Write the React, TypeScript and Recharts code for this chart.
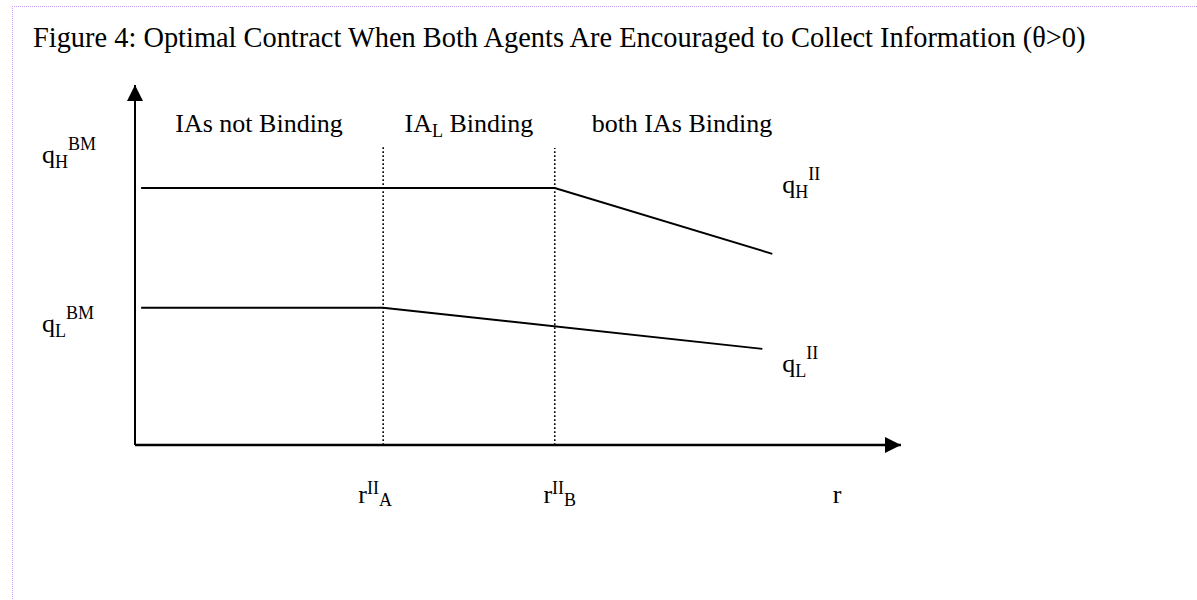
import React from 'react';
import { LineChart, Line, XAxis, YAxis, ReferenceLine, ReferenceDot } from 'recharts';

const FONT = '"Liberation Serif", "Times New Roman", Times, serif';
const TITLE = 'Figure 4: Optimal Contract When Both Agents Are Encouraged to Collect Information (\u03b8>0)';

// ---- data (r on x, quantity q on y) ----
const R_DOMAIN = [0, 100];
const Q_DOMAIN = [0, 100];
const R_START = 0.8;
const R_A = 32.4;
const R_B = 54.8;
const R_END_H = 83.2;
const R_END_L = 81.9;
const R_LABEL = 91;

const Q_H_BM = 71.4;
const Q_L_BM = 38.1;
const Q_H_END = 53.1;
const Q_L_END = 26.7;

const DIVIDER_TOPS = [83.3, 82.5];
const DIVIDERS = [R_A, R_B];

const qHData = [
  { r: R_START, q: Q_H_BM },
  { r: R_A, q: Q_H_BM },
  { r: R_B, q: Q_H_BM },
  { r: R_END_H, q: Q_H_END },
];
const qLData = [
  { r: R_START, q: Q_L_BM },
  { r: R_A, q: Q_L_BM },
  { r: R_END_L, q: Q_L_END },
];

const REGION_MIDS = [16.2, 43.6, 71.4];
const REGION_LABELS = [
  [{ t: 'IAs not Binding' }],
  [{ t: 'IA' }, { t: 'L', s: 'sub' }, { t: ' Binding', s: 'back' }],
  [{ t: 'both IAs Binding' }],
];

const X_TICKS = [R_A, R_B, R_LABEL];
const X_TICK_LABELS = [
  [{ t: 'r' }, { t: 'II', s: 'supR' }, { t: 'A', s: 'subR' }],
  [{ t: 'r' }, { t: 'II', s: 'supR' }, { t: 'B', s: 'subR' }],
  [{ t: 'r' }],
];
const X_TICK_DX = [-8, 5, 5];

const Y_TICKS = [Q_H_BM, Q_L_BM];
const Y_TICK_LABELS = [
  [{ t: 'q' }, { t: 'H', s: 'sub' }, { t: 'BM', s: 'supAfterSub' }],
  [{ t: 'q' }, { t: 'L', s: 'sub' }, { t: 'BM', s: 'supAfterSub' }],
];
const Y_TICK_DY = [-25, 24];

const END_LABELS = [
  [{ t: 'q' }, { t: 'H', s: 'sub' }, { t: 'II', s: 'supAfterSub' }],
  [{ t: 'q' }, { t: 'L', s: 'sub' }, { t: 'II', s: 'supAfterSub' }],
];

// ---- styling ----
const MAIN_SIZE = 26;
const SMALL_SIZE = 18;
const SHIFT: Record<string, number> = {
  sub: 5,
  back: -5,
  supAfterSub: -18,
  supR: -9,
  subR: 12,
};

type Part = { t: string; s?: string };

function Rich({ x, y, parts, anchor = 'start' }: { x: number; y: number; parts: Part[]; anchor?: string }) {
  return (
    <text x={x} y={y} fontFamily={FONT} fontSize={MAIN_SIZE} fill="#000" textAnchor={anchor as any} style={{ whiteSpace: 'pre' }}>
      {parts.map((p, i) => {
        const small = p.s && p.s !== 'back';
        return (
          <tspan key={i} dy={p.s ? SHIFT[p.s] : 0} fontSize={small ? SMALL_SIZE : MAIN_SIZE}>
            {p.t}
          </tspan>
        );
      })}
    </text>
  );
}

const XTick = (props: any) => {
  const { x, index, payload } = props;
  const base = props.yBase ?? 0;
  return <Rich x={x + X_TICK_DX[index]} y={base + 503} parts={X_TICK_LABELS[index]} anchor="middle" />;
};

const YTick = (props: any) => {
  const { y, index } = props;
  return <Rich x={42} y={y + Y_TICK_DY[index]} parts={Y_TICK_LABELS[index]} anchor="start" />;
};

export default function App() {
  return (
    <div style={{ position: 'absolute', left: 0, top: 0, width: 1197, height: 600, overflow: 'hidden', background: '#fff' }}>
      <div
        style={{
          position: 'absolute',
          left: 12,
          top: 6,
          width: 1400,
          height: 800,
          borderTop: '1px dotted #c69cf5',
          borderLeft: '1px dotted #c69cf5',
        }}
      />
      <div
        style={{
          position: 'absolute',
          left: 33,
          top: 24,
          fontFamily: FONT,
          fontSize: 28.4,
          lineHeight: '28px',
          whiteSpace: 'nowrap',
          color: '#000',
        }}
      >
        {TITLE}
      </div>
      <div style={{ position: 'absolute', left: 0, top: 0 }}>
        <LineChart width={1197} height={600} margin={{ top: 85, right: 296, bottom: 154, left: 134 }}>
          <XAxis
            dataKey="r"
            type="number"
            domain={R_DOMAIN}
            ticks={X_TICKS}
            height={1}
            tickLine={false}
            axisLine={{ stroke: '#000', strokeWidth: 2.5 }}
            tick={<XTick />}
            interval={0}
          />
          <YAxis
            dataKey="q"
            type="number"
            domain={Q_DOMAIN}
            ticks={Y_TICKS}
            width={1}
            tickLine={false}
            axisLine={{ stroke: '#000', strokeWidth: 2 }}
            tick={<YTick />}
            interval={0}
          />
          {DIVIDERS.map((r, i) => (
            <ReferenceLine
              key={'d' + i}
              segment={[{ x: r, y: 0 }, { x: r, y: DIVIDER_TOPS[i] }]}
              stroke="#000"
              strokeWidth={1.6}
              strokeDasharray="1.8 2.2"
              ifOverflow="visible"
            />
          ))}
          <Line data={qHData} dataKey="q" type="linear" stroke="#000" strokeWidth={2} dot={false} isAnimationActive={false} />
          <Line data={qLData} dataKey="q" type="linear" stroke="#000" strokeWidth={2} dot={false} isAnimationActive={false} />
          <ReferenceDot
            x={R_DOMAIN[1]}
            y={Q_DOMAIN[0]}
            ifOverflow="visible"
            shape={(p: any) => (
              <polygon points={`${p.cx},${p.cy} ${p.cx - 16},${p.cy - 8} ${p.cx - 16},${p.cy + 8}`} fill="#000" />
            )}
          />
          <ReferenceDot
            x={R_DOMAIN[0]}
            y={Q_DOMAIN[1]}
            ifOverflow="visible"
            shape={(p: any) => (
              <polygon points={`${p.cx},${p.cy} ${p.cx - 8},${p.cy + 16} ${p.cx + 8},${p.cy + 16}`} fill="#000" />
            )}
          />
          {REGION_MIDS.map((m, i) => (
            <ReferenceDot
              key={'reg' + i}
              x={m}
              y={Q_DOMAIN[1]}
              ifOverflow="visible"
              shape={(p: any) => <Rich x={p.cx} y={p.cy + 47} parts={REGION_LABELS[i]} anchor="middle" />}
            />
          ))}
          <ReferenceDot
            x={R_END_H}
            y={Q_H_END}
            ifOverflow="visible"
            shape={(p: any) => <Rich x={p.cx + 10} y={p.cy - 61} parts={END_LABELS[0]} />}
          />
          <ReferenceDot
            x={R_END_L}
            y={Q_L_END}
            ifOverflow="visible"
            shape={(p: any) => <Rich x={p.cx + 20} y={p.cy + 23} parts={END_LABELS[1]} />}
          />
        </LineChart>
      </div>
    </div>
  );
}
